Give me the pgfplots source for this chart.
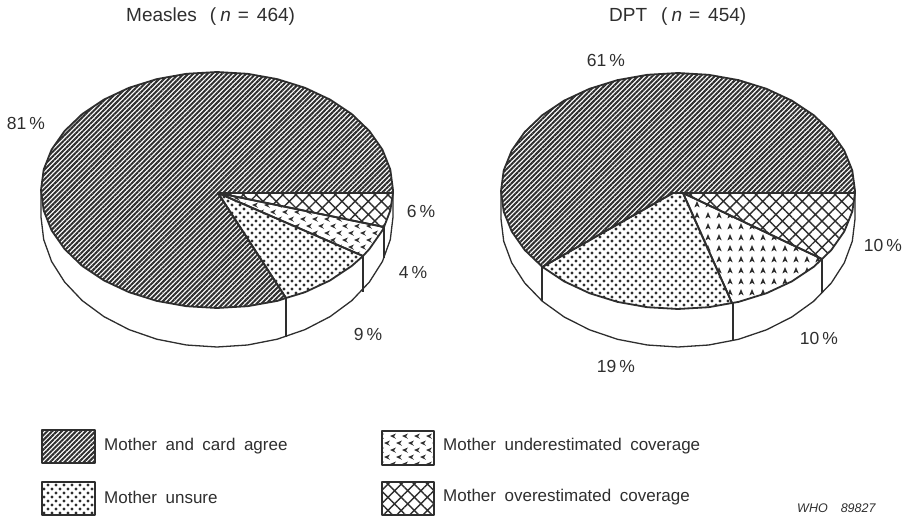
\documentclass[border=0pt]{standalone}
\usepackage{fontspec}
\setmainfont[WordSpace=1.8]{Liberation Sans}
\usepackage{pgfplots}
\pgfplotsset{compat=1.18}
\usetikzlibrary{patterns,patterns.meta}
\definecolor{ink}{HTML}{2E2E2E}
\pgfdeclarepatternformonly{underL}{\pgfqpoint{-1pt}{-1pt}}{\pgfqpoint{13pt}{15pt}}{\pgfqpoint{12pt}{14pt}}{%
  \pgfpathmoveto{\pgfqpoint{0pt}{4pt}}\pgfpathlineto{\pgfqpoint{6pt}{6.5pt}}\pgfpathlineto{\pgfqpoint{4pt}{3.6pt}}\pgfpathlineto{\pgfqpoint{6pt}{1.2pt}}\pgfpathclose
  \pgfpathmoveto{\pgfqpoint{6pt}{11pt}}\pgfpathlineto{\pgfqpoint{12pt}{13.5pt}}\pgfpathlineto{\pgfqpoint{10pt}{10.6pt}}\pgfpathlineto{\pgfqpoint{12pt}{8.2pt}}\pgfpathclose
  \pgfusepath{fill}}
\pgfdeclarepatternformonly{underU}{\pgfqpoint{-1pt}{-1pt}}{\pgfqpoint{12pt}{12pt}}{\pgfqpoint{11pt}{11pt}}{%
  \pgfpathmoveto{\pgfqpoint{4pt}{8pt}}\pgfpathlineto{\pgfqpoint{1.3pt}{1.5pt}}\pgfpathlineto{\pgfqpoint{4.2pt}{3.2pt}}\pgfpathlineto{\pgfqpoint{6.7pt}{1.5pt}}\pgfpathclose
  \pgfusepath{fill}}
\pgfdeclarepatternformonly{dotsU}{\pgfqpoint{-2pt}{-2pt}}{\pgfqpoint{6pt}{6pt}}{\pgfqpoint{8pt}{8pt}}{%
  \pgfpathcircle{\pgfqpoint{0pt}{0pt}}{1.6pt}%
  \pgfpathcircle{\pgfqpoint{4pt}{4pt}}{1.6pt}%
  \pgfusepath{fill}}
\tikzset{
  wall/.style={draw=ink,line width=1.3pt,fill=white},
  rule/.style={draw=ink,line width=1.5pt},
  agree/.style={draw=ink,line width=1.8pt,line join=round,pattern={Lines[angle=45,distance=3.4pt,line width=2pt]},pattern color=ink},
  unsure/.style={draw=ink,line width=1.8pt,line join=round,pattern=dotsU,pattern color=ink},
  over/.style={draw=ink,line width=1.8pt,line join=round,pattern={Hatch[angle=45,distance=9.3pt,line width=1.4pt]},pattern color=ink},
  underl/.style={draw=ink,line width=1.8pt,line join=round,pattern=underL,pattern color=ink},
  underu/.style={draw=ink,line width=1.8pt,line join=round,pattern=underU,pattern color=ink},
  lab/.style={text=ink,font=\fontsize{17}{19}\selectfont,inner sep=0pt},
  pct/.style={text=ink,font=\fontsize{17.5}{20}\selectfont,inner sep=0pt},
  ttl/.style={text=ink,font=\fontsize{19}{21}\selectfont,inner sep=0pt,anchor=west},
}
\newcommand{\pc}[1]{#1\hspace{3pt}\%}
\begin{document}
\begin{tikzpicture}
\begin{axis}[hide axis,scale only axis,width=907pt,height=517pt,
  xmin=0,xmax=907,ymin=0,ymax=517,y dir=reverse,clip=false]
\path (axis cs:0,0) rectangle (axis cs:907,517);
% ---- left pie: wall
\addplot[wall] coordinates {(393,190)(393,217)(390.3,239.6)(382.4,261.5)(369.4,282)(351.8,300.6)(330.1,316.6)(305,329.6)(277.2,339.2)(247.6,345)(217,347)(186.4,345)(156.8,339.2)(129,329.6)(103.9,316.6)(82.2,300.6)(64.6,282)(51.6,261.5)(43.7,239.6)(41,217)(41,190)};
\addplot[rule] coordinates {(384,227)(384,258)};
\addplot[rule] coordinates {(363,256)(363,292)};
\addplot[rule] coordinates {(286,298)(286,337)};
% ---- left pie: top
\addplot[over] coordinates {(218,193)(393,193)(390.3,210.5)(384,227)} --cycle;
\addplot[underl] coordinates {(218,193)(384,227)(382.4,230.4)(369.4,249)(363,256)} --cycle;
\addplot[unsure] coordinates {(218,193)(363,256)(351.8,265.9)(330.1,280.4)(305,292.2)(286,298)} --cycle;
\addplot[agree] coordinates {(218,193)(286,298)(277.2,300.9)(247.6,306.2)(217,308)(186.4,306.2)(156.8,300.9)(129,292.2)(103.9,280.4)(82.2,265.9)(64.6,249)(51.6,230.4)(43.7,210.5)(41,190)(43.7,169.5)(51.6,149.6)(64.6,131)(82.2,114.1)(103.9,99.6)(129,87.8)(156.8,79.1)(186.4,73.8)(217,72)(247.6,73.8)(277.2,79.1)(305,87.8)(330.1,99.6)(351.8,114.1)(369.4,131)(382.4,149.6)(390.3,169.5)(393,190)(393,193)} --cycle;
% ---- right pie: wall
\addplot[wall] coordinates {(855,191)(855,219)(852.3,241.2)(844.3,262.8)(831.3,283)(813.6,301.3)(791.8,317)(766.5,329.8)(738.5,339.3)(708.7,345)(678,347)(647.3,345)(617.5,339.3)(589.5,329.8)(564.2,317)(542.4,301.3)(524.7,283)(511.7,262.8)(503.7,241.2)(501,219)(501,191)};
\addplot[rule] coordinates {(822,259)(822,293)};
\addplot[rule] coordinates {(733,303)(733,341)};
\addplot[rule] coordinates {(542,267)(542,301)};
% ---- right pie: top
\addplot[over] coordinates {(683,193)(855,193)(852.3,211.5)(844.3,231.4)(831.3,250)(822,259)} --cycle;
\addplot[underu] coordinates {(683,193)(822,259)(813.6,266.9)(791.8,281.4)(766.5,293.2)(738.5,301.9)(732,303)} --cycle;
\addplot[unsure] coordinates {(673,193)(683,193)(732,303)(708.7,307.2)(678,309)(647.3,307.2)(617.5,301.9)(589.5,293.2)(564.2,281.4)(542.4,266.9)} --cycle;
\addplot[agree] coordinates {(673,193)(542.4,266.9)(524.7,250)(511.7,231.4)(503.7,211.5)(501,191)(503.7,170.5)(511.7,150.6)(524.7,132)(542.4,115.1)(564.2,100.6)(589.5,88.8)(617.5,80.1)(647.3,74.8)(678,73)(708.7,74.8)(738.5,80.1)(766.5,88.8)(791.8,100.6)(813.6,115.1)(831.3,132)(844.3,150.6)(852.3,170.5)(855,191)(855,193)} --cycle;
% ---- legend swatches
\addplot[agree,line width=2.4pt] coordinates {(42,430)(95,430)(95,463)(42,463)} --cycle;
\addplot[unsure,line width=2.4pt] coordinates {(42,482)(95,482)(95,515)(42,515)} --cycle;
\addplot[underl,line width=2.4pt] coordinates {(382,431)(434,431)(434,465)(382,465)} --cycle;
\addplot[over,line width=2.4pt] coordinates {(382,482)(434,482)(434,515)(382,515)} --cycle;
% ---- text
\node[ttl] at (axis cs:126,17) {Measles\hspace{13pt}(\hspace{4pt}\textit{n}\hspace{7pt}=\hspace{8pt}464)};
\node[ttl] at (axis cs:609,17) {DPT\hspace{14pt}(\hspace{4pt}\textit{n}\hspace{7pt}=\hspace{8pt}454)};
\node[pct] at (axis cs:26,123) {\pc{81}};
\node[pct] at (axis cs:606,60) {\pc{61}};
\node[pct] at (axis cs:421,211) {\pc{6}};
\node[pct] at (axis cs:413,272) {\pc{4}};
\node[pct] at (axis cs:368,334) {\pc{9}};
\node[pct] at (axis cs:883,245) {\pc{10}};
\node[pct] at (axis cs:819,338) {\pc{10}};
\node[pct] at (axis cs:616,366) {\pc{19}};
\node[lab,anchor=west] at (axis cs:104,446) {Mother and card agree};
\node[lab,anchor=west] at (axis cs:104,497) {Mother unsure};
\node[lab,anchor=west] at (axis cs:443,446) {Mother underestimated coverage};
\node[lab,anchor=west] at (axis cs:443,497) {Mother overestimated coverage};
\node[lab,anchor=west,font=\fontsize{12.5}{14}\selectfont\itshape] at (axis cs:797,508.5) {WHO\hspace{13pt}89827};
\end{axis}
\end{tikzpicture}
\end{document}
